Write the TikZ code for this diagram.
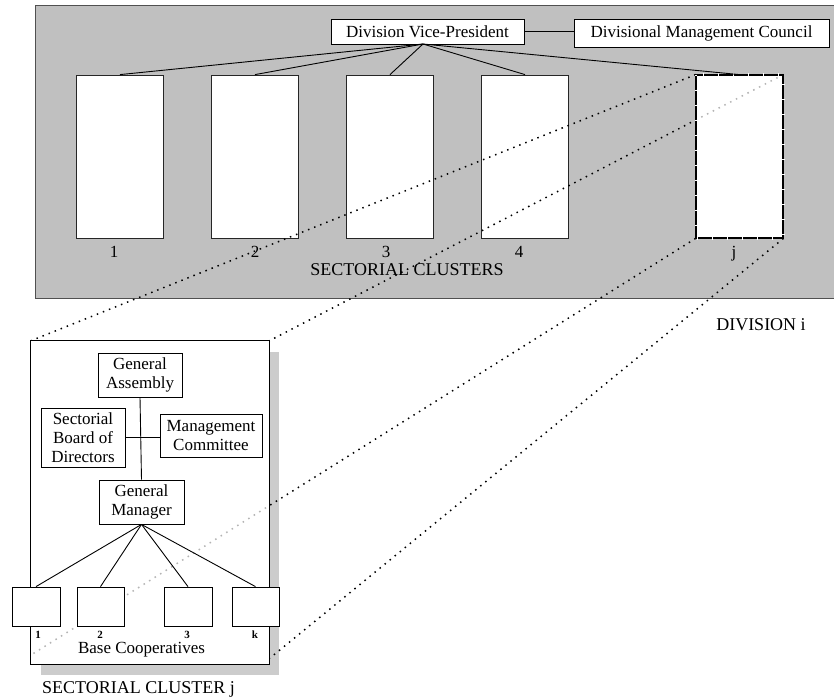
\documentclass[tikz,border=0pt]{standalone}
\usepackage{fontspec}
\setmainfont{Liberation Serif}
\definecolor{bggray}{HTML}{C0C0C0}
\definecolor{shadowgray}{HTML}{CCCCCC}
\definecolor{edgegray}{HTML}{505050}
\definecolor{hiddot}{HTML}{B4B4B4}
\begin{document}
\begin{tikzpicture}[x=1pt,y=-1pt,
  box/.style={draw, fill=white, line width=0.8pt, inner sep=0pt, align=center,
    font=\fontsize{17}{19}\selectfont},
  clbox/.style={draw=black!85, fill=white, line width=0.8pt, inner sep=0pt,
    minimum width=87pt, minimum height=163pt},
  lbl/.style={inner sep=0pt, anchor=base, font=\fontsize{17}{19}\selectfont},
  biglbl/.style={inner sep=0pt, anchor=base, font=\fontsize{18}{20}\selectfont},
  numlbl/.style={inner sep=0pt, anchor=base, font=\fontsize{11}{12}\selectfont\bfseries},
  dots/.style={line width=1.5pt, dash pattern=on 1.5pt off 5pt},
  conn/.style={line width=0.9pt},
]
\useasboundingbox (0,0) rectangle (834,698);
\fill[white] (0,0) rectangle (834,698);

% division background
\draw[fill=bggray, draw=edgegray, line width=1pt] (35,6) rectangle (840,298);

% top boxes
\node[box, minimum width=193pt, minimum height=25pt] (vp) at (427.5,31.5) {Division Vice-President};
\node[box, minimum width=255pt, minimum height=28pt] (dmc) at (701.5,33) {Divisional Management Council};
\draw[conn] (vp.east) -- (vp.east -| dmc.west);

% cluster boxes
\node[clbox] (c1) at (120,156.5) {};
\node[clbox] (c2) at (255,156.5) {};
\node[clbox] (c3) at (390,156.5) {};
\node[clbox] (c4) at (525,156.5) {};
\node[clbox, draw=none] (cj) at (739.5,156.5) {};

\coordinate (vpb) at (423,44);
\foreach \c in {c1,c2,c3,c4}{\draw[conn] (vpb) -- (\c.north);}

\node[lbl] (n1) at (114,257) {1};
\node[lbl] (n2) at (255,257) {2};
\node[lbl] (n3) at (386,257) {3};
\node[lbl] (n4) at (519,257) {4};
\node[lbl] (nj) at (734,257) {j};
\node[biglbl] (scl) at (407,275) {SECTORIAL CLUSTERS};
\node[biglbl] (div) at (761,330) {DIVISION i};

% lower cluster shadow
\fill[shadowgray] (41,352) rectangle (279,675);

% dotted projection lines
\coordinate (cend) at (31,655);
\coordinate (dend) at (270,658);
\node[inner sep=0pt, minimum width=238pt, minimum height=323pt] (sc) at (150,502.5) {};
\draw[dots] (cj.north west) -- (sc.north west);
\draw[dots] (cj.north east) -- (sc.north east);
\draw[dots] (cj.south west) -- (cend);
\draw[dots] (cj.south east) -- (dend);

% box j on top, hidden part grey
\fill[white] (cj.north west) rectangle (cj.south east);
\begin{scope}
  \clip (cj.north west) rectangle (cj.south east);
  \draw[dots, hiddot] (cj.north east) -- (sc.north east);
\end{scope}
\draw[line width=2pt] (cj.north west) rectangle (cj.south east);
\draw[white, line width=2.2pt, dash pattern=on 1pt off 14pt] (cj.north west) rectangle (cj.south east);
\draw[conn] (vpb) -- (cj.north);

% lower cluster box
\draw[fill=white, line width=0.8pt] (sc.north west) rectangle (sc.south east);
\begin{scope}
  \clip (sc.north west) rectangle (sc.south east);
  \draw[dots, hiddot] (cj.south west) -- (cend);
\end{scope}

\node[box, minimum width=84pt, minimum height=44pt] (ga) at (140,375) {General\\Assembly};
\node[box, minimum width=84pt, minimum height=59pt] (sbd) at (83,437.5) {Sectorial\\Board of\\Directors};
\node[box, minimum width=102pt, minimum height=43pt] (mc) at (211,435.5) {Management\\Committee};
\node[box, minimum width=85pt, minimum height=44pt] (gm) at (141.5,502) {General\\Manager};
\draw[conn] (ga.south) -- (gm.north);
\draw[conn] (sbd.east) -- (sbd.east -| mc.west);

\node[box, minimum width=48pt, minimum height=39pt] (b1) at (36,606.5) {};
\node[box, minimum width=47pt, minimum height=39pt] (b2) at (100.5,606.5) {};
\node[box, minimum width=48pt, minimum height=39pt] (b3) at (188,606.5) {};
\node[box, minimum width=47pt, minimum height=39pt] (bk) at (255.5,606.5) {};
\foreach \b in {b1,b2,b3,bk}{\draw[conn] (gm.south) -- (\b.north);}

\node[numlbl] (m1) at (38,638) {1};
\node[numlbl] (m2) at (100,638) {2};
\node[numlbl] (m3) at (187,638) {3};
\node[numlbl] (mk) at (255,638) {k};
\node[lbl] (bc) at (141.5,653) {Base Cooperatives};
\node[biglbl] (scj) at (138.5,693) {SECTORIAL CLUSTER j};
\end{tikzpicture}
\end{document}
